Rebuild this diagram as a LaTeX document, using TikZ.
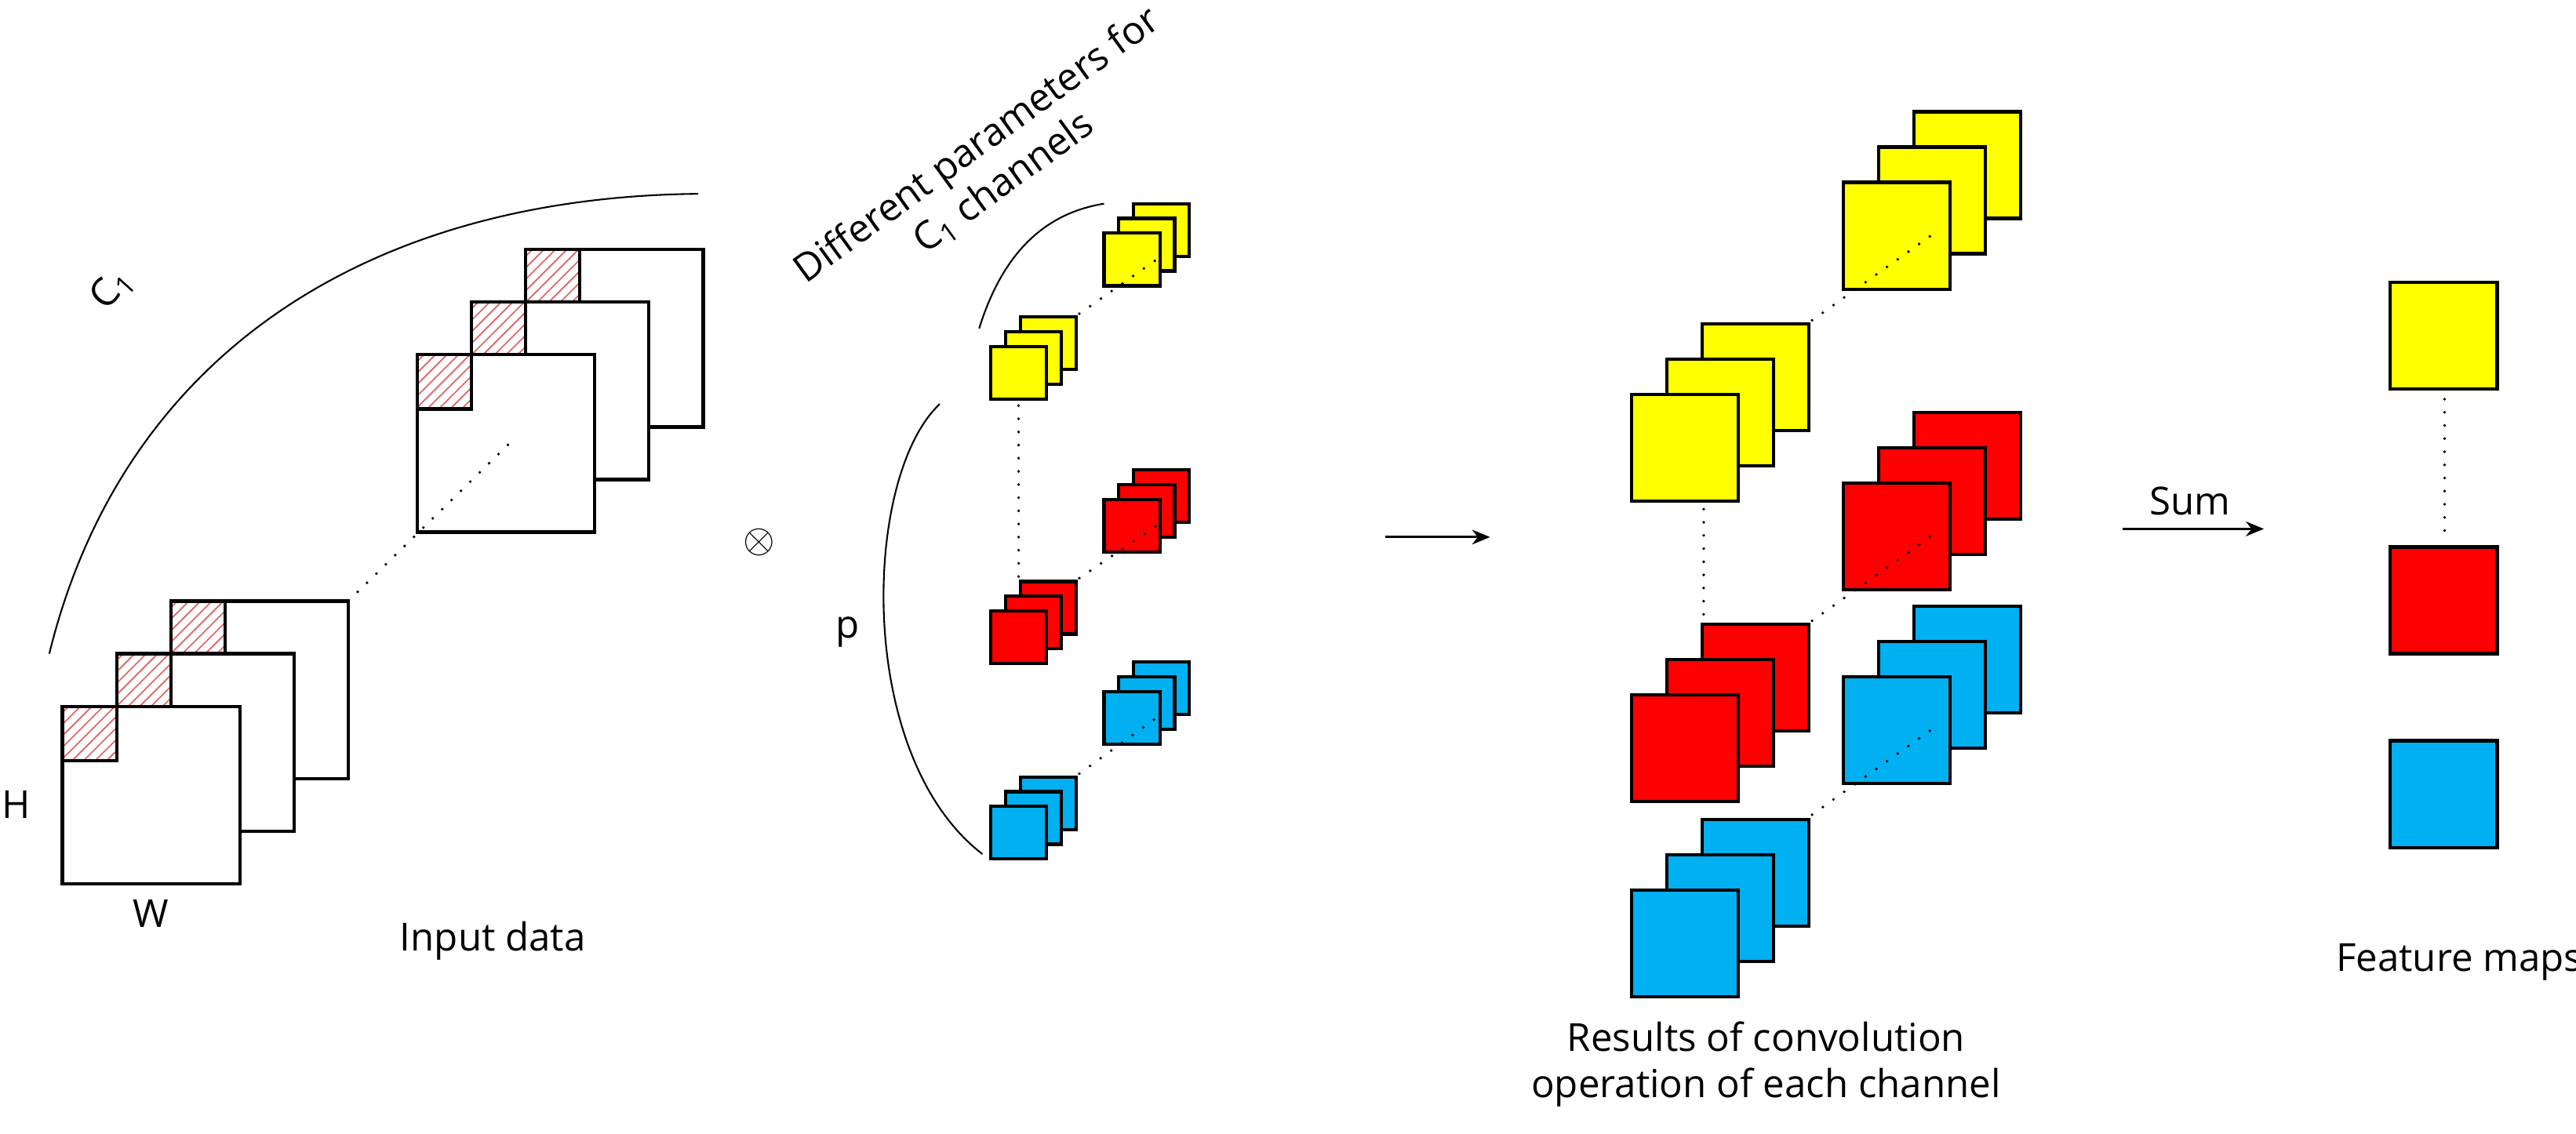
\documentclass[tikz,border=0pt]{standalone}
\usepackage{fontspec}
\setmainfont{Open Sans}
\usetikzlibrary{arrows.meta}
\begin{document}
\begin{tikzpicture}[x=1pt,y=-1pt,
  sq/.style={draw=black,line width=2pt},
  thin/.style={line width=1pt},
  dots/.style={line width=1.8pt,line cap=round,dash pattern=on 0pt off 8pt},
  lbl/.style={font=\fontsize{23.5}{28}\selectfont,inner sep=0pt},
  arr/.style={line width=1.5pt,-{Stealth[length=11pt,width=9pt]}}]
\definecolor{kY}{HTML}{FFFF00}
\definecolor{kR}{HTML}{FF0000}
\definecolor{kB}{HTML}{00B0F0}
\definecolor{hatch}{HTML}{E06060}
\useasboundingbox (0,0) rectangle (1568,690);
% ---- input data ----
\newcommand\hsq[2]{%
  \begin{scope}\clip (#1,#2) rectangle ++(33,33);
  \foreach \i in {-36,-29,...,36}{\draw[hatch,line width=0.8pt] (#1+\i,#2+33) -- ++(33,-33);}
  \end{scope}\draw[sq] (#1,#2) rectangle ++(33,33);}
\newcommand\bigsq[2]{\draw[sq,fill=white] (#1,#2) rectangle ++(108,108);\hsq{#1}{#2}}
\bigsq{104}{366}\bigsq{71}{398}\bigsq{38}{430}
\bigsq{320}{152}\bigsq{287}{184}\bigsq{254}{216}
\coordinate (d1) at (212,366); \coordinate (d2) at (312,268);
\draw[dots] (d1) -- (d2);
\draw[thin] (30,398) .. controls (75,215) and (225,120) .. (425,118);
\node[lbl,rotate=48] (c1) at (68,176) {C\textsubscript{1}};
\node[lbl] (h) at (10,490) {H};
\node[lbl] (w) at (92,556) {W};
\node[lbl] (inp) at (300,573) {Input data};
\node[inner sep=0pt,font=\fontsize{50}{50}\selectfont] (ot) at (462,330) {$\otimes$};
% ---- kernels ----
\newcommand\kst[3]{\draw[sq,fill=#1] (#2+18,#3-18) rectangle ++(34,32);
  \draw[sq,fill=#1] (#2+9,#3-9) rectangle ++(34,32);
  \draw[sq,fill=#1] (#2,#3) rectangle ++(34,32);}
\kst{kY}{603}{211}\kst{kR}{603}{372}\kst{kB}{603}{491}
\kst{kY}{672}{142}\kst{kR}{672}{304}\kst{kB}{672}{421}
\draw[dots] (620,247) -- (620,352);
\draw[dots] (657,191) -- (704,158);
\draw[dots] (657,352) -- (704,320);
\draw[dots] (657,471) -- (704,437);
\draw[thin] (596,200) .. controls (610,155) and (635,130) .. (672,124);
\draw[thin] (572,246) .. controls (525,290) and (520,460) .. (598,520);
\node[lbl] (p) at (516,385) {p};
\node[lbl,rotate=36,align=center] (dp) at (603,100) {Different parameters for\\C\textsubscript{1} channels};
% ---- arrow ----
\coordinate (a1) at (843,327); \coordinate (a2) at (907,327);
\draw[arr] (a1) -- (a2);
% ---- results ----
\newcommand\rst[3]{\draw[sq,fill=#1] (#2+43,#3-43) rectangle ++(65,65);
  \draw[sq,fill=#1] (#2+21.5,#3-21.5) rectangle ++(65,65);
  \draw[sq,fill=#1] (#2,#3) rectangle ++(65,65);}
\rst{kY}{993}{240}\rst{kR}{993}{423}\rst{kB}{993}{542}
\rst{kY}{1122}{111}\rst{kR}{1122}{294}\rst{kB}{1122}{412}
\draw[dots] (1037,310) -- (1037,376);
\draw[dots] (1103,195) -- (1176,143);
\draw[dots] (1103,378) -- (1176,326);
\draw[dots] (1103,496) -- (1176,444);
\node[lbl,align=center] (res) at (1075,648) {Results of convolution\\operation of each channel};
% ---- sum ----
\coordinate (s1) at (1292,322); \coordinate (s2) at (1378,322);
\draw[arr] (s1) -- (s2);
\node[lbl] (sum) at (1333,305) {Sum};
% ---- feature maps ----
\draw[sq,fill=kY] (1455,172) rectangle ++(65,65);
\draw[sq,fill=kR] (1455,333) rectangle ++(65,65);
\draw[sq,fill=kB] (1455,451) rectangle ++(65,65);
\draw[dots] (1488,243) -- (1488,330);
\node[lbl] (fm) at (1497,586) {Feature maps};
\end{tikzpicture}
\end{document}
